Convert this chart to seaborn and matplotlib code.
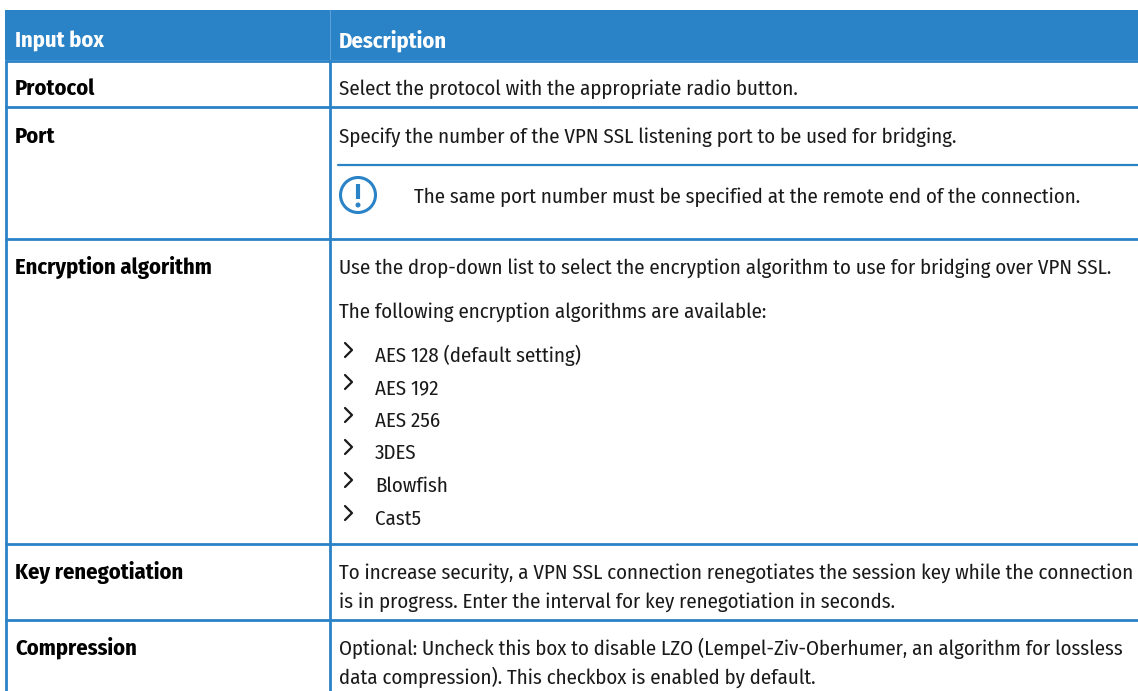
import matplotlib
matplotlib.use("Agg")
import matplotlib.pyplot as plt
from matplotlib.patches import Circle, Rectangle
import seaborn as sns

# Table content
header = ["Input box", "Description"]
row_names = ["Protocol", "Port", "Encryption algorithm", "Key renegotiation", "Compression"]
desc_protocol = ["Select the protocol with the appropriate radio button."]
desc_port = ["Specify the number of the VPN SSL listening port to be used for bridging."]
note_port = "The same port number must be specified at the remote end of the connection."
desc_encryption = ["Use the drop-down list to select the encryption algorithm to use for bridging over VPN SSL.",
                   "The following encryption algorithms are available:"]
algorithms = ["AES 128 (default setting)", "AES 192", "AES 256", "3DES", "Blowfish", "Cast5"]
desc_key = ["To increase security, a VPN SSL connection renegotiates the session key while the connection",
            "is in progress. Enter the interval for key renegotiation in seconds."]
desc_compression = ["Optional: Uncheck this box to disable LZO (Lempel-Ziv-Oberhumer, an algorithm for lossless",
                    "data compression). This checkbox is enabled by default."]

BLUE = "#2a82c7"
TEXT = "#1a1a1a"

sns.set_theme(style="white")
plt.rcParams["font.family"] = ["Fira Sans Condensed", "Liberation Sans", "DejaVu Sans"]

fig, ax = plt.subplots(figsize=(11.38, 6.91), dpi=100)
ax.set_position([0, 0, 1, 1])
ax.set_xlim(0, 1138)
ax.set_ylim(691, 0)
ax.axis("off")

# Header band and grid
ax.add_patch(Rectangle((5, 10), 1133, 50, color=BLUE, lw=0))
ax.plot([330, 330], [10, 60], color="#5aa0d6", lw=0.8)
for y in [60.5, 106.5, 239, 544, 620]:
    ax.plot([5, 1138], [y, y], color=BLUE, lw=2, solid_capstyle="butt")
for x in [6.5, 330.5]:
    ax.plot([x, x], [60, 691], color=BLUE, lw=2, solid_capstyle="butt")
ax.plot([338, 1138], [165, 165], color=BLUE, lw=1.6)

FS = 15
FS_BOLD = 16.2


def put(x, y, s, **kw):
    kw.setdefault("color", TEXT)
    kw.setdefault("fontsize", FS)
    ax.text(x, y, s, va="baseline", ha="left", **kw)


put(15, 48, header[0], color="white", fontweight="bold", fontsize=FS_BOLD)
put(339, 48, header[1], color="white", fontweight="bold", fontsize=FS_BOLD)

for name, y in zip(row_names, [95, 143, 274, 579, 655]):
    put(15, y, name, color="black", fontweight="bold", fontsize=FS_BOLD)

put(339, 95, desc_protocol[0])
put(339, 143, desc_port[0])
put(414, 203, note_port)
for line, y in zip(desc_encryption, [274, 318]):
    put(339, y, line)
for algo, y in zip(algorithms, [362, 394, 427, 459, 492, 525]):
    ax.plot([345, 352, 345], [y - 19, y - 12, y - 5], color=TEXT, lw=1.6)
    put(375, y, algo)
for line, y in zip(desc_key, [579, 608]):
    put(339, y, line)
for line, y in zip(desc_compression, [655, 684]):
    put(339, y, line)

# Note icon
ax.add_patch(Circle((358, 195), 17.5, fill=False, edgecolor=BLUE, lw=2.2))
ax.plot([358, 358], [184, 199], color=BLUE, lw=3, solid_capstyle="butt")
ax.add_patch(Circle((358, 205), 2.5, color=BLUE, lw=0))

fig.savefig("out.png", dpi=100)
